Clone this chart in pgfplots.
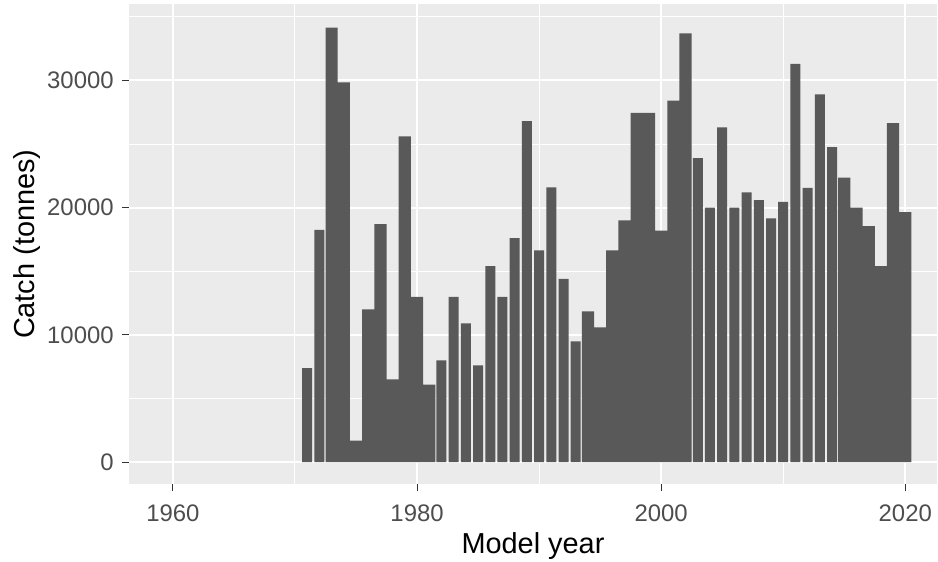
\documentclass[border=0pt]{standalone}
\usepackage{pgfplots}
\pgfplotsset{compat=1.18}
\usepackage{fontspec}
\setmainfont{Liberation Sans}

\definecolor{panelgrey}{HTML}{EBEBEB}
\definecolor{bargrey}{HTML}{595959}
\definecolor{ticktext}{HTML}{4D4D4D}
\definecolor{tickgrey}{HTML}{333333}

% Catch by model year; bars in contiguous runs are full width,
% the others are drawn slightly narrower.
\pgfplotstableread{
year catch
1973 34150
1974 29850
1975 1700
1976 12000
1977 18700
1978 6500
1979 25600
1980 13000
1981 6100
1994 11850
1995 10600
1996 16650
1997 19000
1998 27450
1999 27450
2000 18200
2001 28400
2002 33700
2015 22350
2016 20000
2017 18550
2018 15400
2019 26650
2020 19650
}\widebars

\pgfplotstableread{
year catch
1971 7400
1972 18250
1982 8000
1983 13000
1984 10900
1985 7600
1986 15400
1987 13000
1988 17600
1989 26800
1990 16650
1991 21600
1992 14400
1993 9500
2003 23900
2004 20000
2005 26300
2006 20000
2007 21200
2008 20600
2009 19150
2010 20450
2011 31300
2012 21550
2013 28900
2014 24750
}\narrowbars

\begin{document}
\begin{tikzpicture}
\useasboundingbox (-129bp,-78bp) rectangle (809bp,484bp);
\begin{axis}[
  at={(0,0)}, anchor=south west,
  scale only axis, width=808bp, height=479.5bp,
  xmin=1956.4, xmax=2022.6, ymin=-1710, ymax=35960,
  axis background/.style={fill=panelgrey},
  axis line style={draw=none},
  xtick={1960,1980,2000,2020}, minor xtick={1970,1990,2010},
  ytick={0,10000,20000,30000}, minor ytick={5000,15000,25000,35000},
  xtick pos=lower, ytick pos=left,
  tick align=outside, major tick length=6.5bp, minor tick length=0pt,
  major tick style={tickgrey, line width=1.1bp},
  grid=both,
  major grid style={white, line width=2bp},
  minor grid style={white, line width=1bp},
  scaled y ticks=false,
  /pgf/number format/1000 sep={},
  /pgf/number format/assume math mode=true,
  ticklabel style={font=\fontsize{24}{29}\selectfont, text=ticktext},
  xticklabel style={yshift=-11bp},
  yticklabel style={xshift=-5.3bp},
  label style={font=\fontsize{29}{35}\selectfont, text=black},
  xlabel={Model year}, ylabel={Catch (tonnes)},
  xlabel style={at={(axis description cs:0.5,-0.1439)}, anchor=base},
  ylabel style={at={(axis description cs:-0.117,0.5)}, anchor=base},
]
\addplot[ybar, bar width=1, bar shift=0pt, fill=bargrey, draw=none]
  table[x=year, y=catch] {\widebars};
\addplot[ybar, bar width=0.82, bar shift=0pt, fill=bargrey, draw=none]
  table[x=year, y=catch] {\narrowbars};
\end{axis}
\end{tikzpicture}
\end{document}
